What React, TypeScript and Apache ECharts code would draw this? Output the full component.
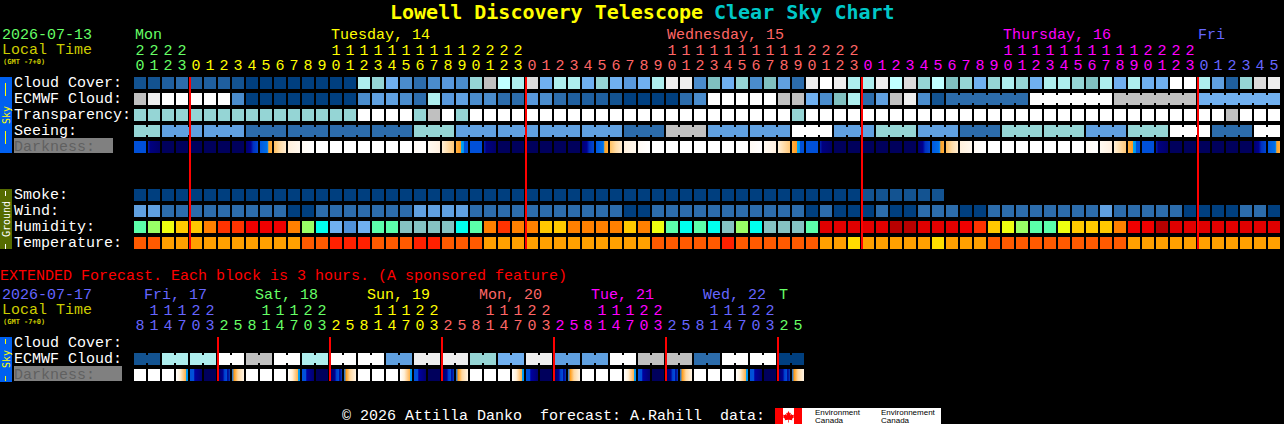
import React, { useEffect, useRef } from "react";
import * as echarts from "echarts";

const FONT = "'Liberation Mono', monospace";
const TITLE_FONT = "'DejaVu Sans Mono', monospace";

// ---- hour header data ----
const mainHours = "0123012345678901234567890123012345678901234567890123012345678901234567890123012345";
const mainTens = "2222          11111111112222          11111111112222          11111111112222      ";
const mainDayOfCol = "GGGGYYYYYYYYYYYYYYYYYYYYYYYYSSSSSSSSSSSSSSSSSSSSSSSSMMMMMMMMMMMMMMMMMMMMMMMMBBBBBB";
const extHours = "814703258147032581470325814703258147032581470325";
const extTens = " 11122   11122   11122   11122   11122   11122  ";
const extDayOfCol = "BBBBBBGGGGGGGGYYYYYYYYSSSSSSSSMMMMMMMMBBBBBBBBGG";

const dayColors: Record<string, string> = { G: "#66ff66", Y: "#ffff00", S: "#ff6666", M: "#ff00ff", B: "#6666ff" };

// ---- row names ----
const mainRows = ["Cloud Cover:", "ECMWF Cloud:", "Transparency:", "Seeing:", "Darkness:", "", "", "Smoke:", "Wind:", "Humidity:", "Temperature:"];
const extRows = ["Cloud Cover:", "ECMWF Cloud:", "Darkness:"];

// ---- forecast rows, one letter per block ----
const cloudCover = "bbcdcccb" + "aaaaaaaa" + "jiged" + "eFeilkjmgj" + "jgigFgjnne" + "hgiehfdnwn" + "j" + "jnkmikhigi" + "jigjjihjgj" + "ggwwjfcimn";
const ecmwfCloud = "ln" + "wwwww" + "e" + "aaaaaaaa" + "effed" + "jFfeeddFed" + "cccbaaaade" + "wwwwwllgeh" + "j" + "dflneb" + "dddddd" + "wwwwww" + "llllll" + "gggggg";
const transparency = "iiiiiiiiiiiiiiii" + "wwww" + "ilwi" + "wwwwwwwwwwwwwwwwwwwwwww" + "i" + "wwwwwwwwwwwwwwwwwwwwwwwwwwwwww" + "l" + "www";
const seeing = "ii" + "ffffff" + "dddddddddddd" + "iii" + "ffffffffffff" + "ddd" + "lll" + "ffffff" + "www" + "fff" + "iii" + "fff" + "ddd" + "iiiiii" + "fff" + "iii" + "www" + "ddd" + "ww";
const darkness = "BENNNNNNROPCLWWWWWWWLSTU" + "BENNNNNNROPCLWWWWWWWLSTU" + "BENNNNNNROPCLWWWWWWWLSTU" + "BENNNNNNRO";
const smoke = "aaaaaaaaaaaaaaaaaaaaaaaaaaaaaaaaaaaaaaaaaaaaaaaaaaaabbbbbb";
const wind = "ff" + "ddddddddd" + "aa" + "ddddddd" + "ffff" + "ddddddddddd" + "aa" + "ddddddddddd" + "ad" + "aaa" + "d" + "aa" + "ddd" + "aa" + "dddddddd" + "f" + "ddddd" + "aaaa" + "dd" + "a";
const humidity = "qrsttuvv555uryz8zqq77" + "77yquvuuttuuuutusqyqy7ry777qxxx" + "xx66xxx5vtsrqqstttu556xxxxxxxx";
const temperature = "11" + "2222222222" + "11" + "333" + "111" + "33" + "111" + "222222222222" + "11111" + "3" + "111111" + "22" + "4" + "22222" + "4" + "222" + "1111111111" + "22222222222";
const extEcmwfPairs = ["b", "j", "j", "w", "l", "w", "j", "w", "w", "f", "n", "n", "i", "g", "n", "f", "f", "w", "l", "l", "d", "w", "w", "a"];
const extDarkness = "WWWDKNGV" + "WWWDKNGV" + "WWWDKNGV" + "WWWDKNGV" + "WWWDKNGV" + "WWWDKNGV";

// ---- block groups: lengths of the runs that are joined together ----
const seeingRuns = [2, 3, 3, 3, 3, 3, 3, 3, 3, 3, 3, 3, 3, 3, 3, 3, 3, 3, 3, 3, 3, 3, 3, 3, 3, 3, 3, 2];
const ecmwfRuns = [...new Array(58).fill(1), 6, 6, 6, 6];
const extEcmwfRuns = new Array(24).fill(2);

const midnightColsMain = [4, 28, 52, 76];
const midnightColsExt = [6, 14, 22, 30, 38, 46];

// ---- colour keys ----
const solid: Record<string, string> = {
  a: "#003f7f", b: "#135391", c: "#1f5f9f", d: "#2c6cab", e: "#4a8ccc", F: "#5898dc", f: "#60a0e0", g: "#70b0f0",
  h: "#80c0c0", i: "#95d5d5", j: "#aeeeee", k: "#c0ffff", l: "#c0c0c0", m: "#dcdcdc", n: "#eeeeee", w: "#ffffff",
  q: "#5bffaa", r: "#99ff66", s: "#eeff10", t: "#ffc800", u: "#ff8000", v: "#ff3300", x: "#e00000", y: "#00ffee", z: "#70b0f0",
  "5": "#f00000", "6": "#b80000", "7": "#85c2c2", "8": "#4f90d8",
  "1": "#ff5a00", "2": "#ffa000", "3": "#ff2000", "4": "#ffdd00",
};
const gradients: Record<string, [number, string][]> = {
  B: [[0, "#0050d8"], [1, "#0050d8"]],
  E: [[0, "#0020b0"], [0.2, "#000080"], [1, "#000068"]],
  N: [[0, "#00005c"], [1, "#00005c"]],
  R: [[0, "#000070"], [0.4, "#000090"], [0.6, "#0030c0"], [1, "#0048d0"]],
  O: [[0, "#0058e0"], [0.6, "#0070e8"], [0.68, "#20a0f0"], [0.72, "#ffa020"], [1, "#ffb040"]],
  P: [[0, "#ffc060"], [0.5, "#ffdca8"], [1, "#ffecd0"]],
  C: [[0, "#fff0dc"], [1, "#fff8ee"]],
  L: [[0, "#fffaf4"], [1, "#ffffff"]],
  W: [[0, "#ffffff"], [1, "#ffffff"]],
  S: [[0, "#fffaf2"], [1, "#fff0e0"]],
  T: [[0, "#fff0d8"], [1, "#ffc878"]],
  U: [[0, "#ffb040"], [0.4, "#ff9a20"], [0.45, "#00a8f0"], [0.65, "#0090f0"], [0.7, "#0050d8"], [1, "#0050d8"]],
  D: [[0, "#ffffff"], [0.35, "#fff0d8"], [0.7, "#ffc070"], [0.85, "#ffb040"], [0.86, "#00a0f0"], [1, "#0090f0"]],
  K: [[0, "#0050d8"], [0.3, "#0050d8"], [0.4, "#0000a0"], [1, "#000070"]],
  G: [[0, "#000060"], [0.4, "#000090"], [0.55, "#0040d0"], [0.75, "#0050d8"], [0.8, "#000090"], [1, "#0040c0"]],
  V: [[0, "#0070e8"], [0.2, "#ffa020"], [0.5, "#ffd8a0"], [1, "#fff4e4"]],
};

type Cell = { col: number; row: number; key: string; join: number };

function fillFor(key: string) {
  const g = gradients[key];
  if (g) return new echarts.graphic.LinearGradient(0, 0, 1, 0, g.map(([offset, color]) => ({ offset, color })));
  return solid[key] || "#000";
}

function joinFlags(runs: number[]) {
  const out: number[] = [];
  runs.forEach((len) => {
    for (let i = 0; i < len; i++) out.push(i < len - 1 ? 1 : 0);
  });
  return out;
}

function rowCells(row: number, text: string, joins?: number[]): Cell[] {
  return text.split("").map((key, col) => ({ col, row, key, join: joins ? joins[col] || 0 : 0 }));
}

function cellRenderer(cells: Cell[]) {
  return (params: any, api: any) => {
    const cell = cells[params.dataIndex];
    const c = api.coord([api.value(0), api.value(1)]);
    const size = api.size([1, 1]);
    const w = size[0] - 2;
    const h = size[1] - 4;
    const x = c[0] - w / 2;
    const y = c[1] - h / 2;
    const fill = fillFor(cell.key);
    const children: any[] = [{ type: "rect", shape: { x, y, width: w, height: h }, style: { fill } }];
    if (cell.join) {
      children.push({ type: "rect", shape: { x: x + w, y: y + 2, width: 2, height: h - 4 }, style: { fill } });
    }
    return { type: "group", children };
  };
}

function redLineRenderer(firstRow: number, lastRow: number) {
  return (_p: any, api: any) => {
    const col = api.value(0);
    const size = api.size([1, 1]);
    const top = api.coord([col, firstRow]);
    const bottom = api.coord([col, lastRow]);
    return {
      type: "rect",
      shape: { x: top[0] - size[0] / 2, y: top[1] - size[1] / 2 + 2, width: 2, height: bottom[1] - top[1] + size[1] - 4 },
      style: { fill: "#ff0000" },
    };
  };
}

function digitAxis(gridIndex: number, text: string, dayKeys: string, margin: number) {
  return {
    type: "category",
    gridIndex,
    position: "top",
    data: text.split("").map((ch, i) => ({
      value: ch === " " ? "" : ch,
      textStyle: { color: dayColors[dayKeys[i]] },
    })),
    axisLine: { show: false },
    axisTick: { show: false },
    splitLine: { show: false },
    axisLabel: { interval: 0, margin, fontFamily: FONT, fontSize: 15, hideOverlap: false },
  };
}

function rowAxis(gridIndex: number, rows: string[]) {
  return {
    type: "category",
    gridIndex,
    inverse: true,
    data: rows.map((name) => ({
      value: name,
      textStyle: { color: name === "Darkness:" ? "#606060" : "#ffffff", align: "left", padding: [0, 0, 3, 0] },
    })),
    axisLine: { show: false },
    axisTick: { show: false },
    splitLine: { show: false },
    axisLabel: { interval: 0, align: "left", margin: 119, fontFamily: FONT, fontSize: 15 },
  };
}

function txt(x: number, y: number, text: string, fill: string, fontSize = 15, fontWeight = "normal", family = FONT) {
  return {
    type: "text",
    x,
    y,
    silent: true,
    style: { text, fill, font: `${fontWeight} ${fontSize}px ${family}`, verticalAlign: "middle" },
  };
}

function sideBar(y: number, h: number, fill: string, text: string, textY: number, color: string, dashes: [number, number][]) {
  return [
    { type: "rect", shape: { x: 0, y, width: 12, height: h }, style: { fill } },
    {
      type: "text",
      x: 6,
      y: textY,
      rotation: Math.PI / 2,
      style: { text, fill: color, font: `10px ${TITLE_FONT}`, align: "center", verticalAlign: "middle" },
    },
    ...dashes.map(([a, b]) => ({ type: "rect", shape: { x: 5, y: a, width: 1, height: b - a }, style: { fill: color } })),
  ];
}

const MAPLE =
  "M12 0 L14.5 4.5 L17 3.3 L16 9 L19 6 L20 8 L24 7.3 L22.7 11 L24.3 12 L19.5 16.2 L20.3 18.6 L12.6 17.7 L12.8 23 L11.2 23 L11.4 17.7 L3.7 18.6 L4.5 16.2 L-0.3 12 L1.3 11 L0 7.3 L4 8 L5 6 L8 9 L7 3.3 L9.5 4.5 Z";
echarts.graphic.registerShape("mapleLeaf", (echarts.graphic as any).extendPath(MAPLE, {}));

export default function App() {
  const ref = useRef<HTMLDivElement>(null);
  useEffect(() => {
    document.body.style.margin = "0";
    document.body.style.background = "#000";
    const chart = echarts.init(ref.current!, undefined, { renderer: "svg" });

    const mainCells: Cell[] = [
      ...rowCells(0, cloudCover),
      ...rowCells(1, ecmwfCloud, joinFlags(ecmwfRuns)),
      ...rowCells(2, transparency),
      ...rowCells(3, seeing, joinFlags(seeingRuns)),
      ...rowCells(4, darkness),
      ...rowCells(7, smoke),
      ...rowCells(8, wind),
      ...rowCells(9, humidity),
      ...rowCells(10, temperature),
    ];
    const extCells: Cell[] = [
      ...rowCells(1, extEcmwfPairs.flatMap((k) => [k, k]).join(""), joinFlags(extEcmwfRuns)),
      ...rowCells(2, extDarkness),
    ];

    const option: any = {
      animation: false,
      backgroundColor: "#000000",
      textStyle: { fontFamily: FONT },
      tooltip: { show: false },
      grid: [
        { left: 133, top: 75, width: 14 * 82, height: 16 * 11, outerBoundsMode: "none" },
        { left: 133, top: 335, width: 14 * 48, height: 16 * 3, outerBoundsMode: "none" },
      ],
      xAxis: [
        digitAxis(0, mainHours, mainDayOfCol, 1),
        digitAxis(0, mainTens, mainDayOfCol, 16),
        digitAxis(1, extHours, extDayOfCol, 1),
        digitAxis(1, extTens, extDayOfCol, 16),
      ],
      yAxis: [rowAxis(0, mainRows), rowAxis(1, extRows)],
      series: [
        {
          type: "custom",
          xAxisIndex: 0,
          yAxisIndex: 0,
          renderItem: cellRenderer(mainCells),
          clip: false,
          encode: { x: 0, y: 1 },
          data: mainCells.map((c) => [c.col, c.row]),
        },
        {
          type: "custom",
          xAxisIndex: 0,
          yAxisIndex: 0,
          renderItem: redLineRenderer(0, 10),
          clip: false,
          z: 5,
          encode: { x: 0, y: 1 },
          data: midnightColsMain.map((c) => [c, 0]),
        },
        {
          type: "custom",
          xAxisIndex: 2,
          yAxisIndex: 1,
          renderItem: cellRenderer(extCells),
          clip: false,
          encode: { x: 0, y: 1 },
          data: extCells.map((c) => [c.col, c.row]),
        },
        {
          type: "custom",
          xAxisIndex: 2,
          yAxisIndex: 1,
          renderItem: redLineRenderer(0, 2),
          clip: false,
          z: 5,
          encode: { x: 0, y: 1 },
          data: midnightColsExt.map((c) => [c, 0]),
        },
      ],
      graphic: [
        { type: "rect", z: -1, shape: { x: 14, y: 138, width: 99, height: 15 }, style: { fill: "#808080" } },
        { type: "rect", z: -1, shape: { x: 14, y: 366, width: 108, height: 15 }, style: { fill: "#808080" } },
        txt(390, 12, "Lowell Discovery Telescope", "#ffff00", 20, "bold", TITLE_FONT),
        txt(714, 12, "Clear Sky Chart", "#00c8c8", 20, "bold", TITLE_FONT),
        txt(2, 35, "2026-07-13", "#66ff66"),
        txt(2, 50, "Local Time", "#cccc00"),
        txt(3, 62, "(GMT -7+0)", "#cccc00", 7, "bold", TITLE_FONT),
        txt(135, 35, "Mon", "#66ff66"),
        txt(331, 35, "Tuesday, 14", "#ffff00"),
        txt(667, 35, "Wednesday, 15", "#ff6666"),
        txt(1003, 35, "Thursday, 16", "#ff00ff"),
        txt(1198, 35, "Fri", "#6666ff"),
        txt(0, 276, "EXTENDED Forecast. Each block is 3 hours. (A sponsored feature)", "#ff0000"),
        txt(2, 295, "2026-07-17", "#6666ff"),
        txt(2, 310, "Local Time", "#cccc00"),
        txt(3, 322, "(GMT -7+0)", "#cccc00", 7, "bold", TITLE_FONT),
        txt(144, 295, "Fri, 17", "#6666ff"),
        txt(255, 295, "Sat, 18", "#66ff66"),
        txt(367, 295, "Sun, 19", "#ffff00"),
        txt(479, 295, "Mon, 20", "#ff6666"),
        txt(591, 295, "Tue, 21", "#ff00ff"),
        txt(703, 295, "Wed, 22", "#6666ff"),
        txt(779, 295, "T", "#66ff66"),
        ...sideBar(77, 76, "#0060f0", "Sky", 115, "#ffff00", [[83, 96], [131, 144]]),
        ...sideBar(189, 60, "#556b00", "Ground", 219, "#ffffff", [[191, 196], [244, 249]]),
        ...sideBar(337, 45, "#0060f0", "Sky", 359, "#ffff00", [[339, 344], [376, 381]]),
        txt(342, 416, "\u00a9 2026 Attilla Danko  forecast: A.Rahill  data:", "#ffffff"),
        { type: "rect", shape: { x: 775, y: 408, width: 166, height: 16 }, style: { fill: "#ffffff" } },
        { type: "rect", shape: { x: 775, y: 408, width: 8, height: 16 }, style: { fill: "#ff0000" } },
        { type: "rect", shape: { x: 794, y: 408, width: 8, height: 16 }, style: { fill: "#ff0000" } },
        { type: "mapleLeaf", x: 783, y: 411, scaleX: 0.46, scaleY: 0.5, style: { fill: "#ff0000" } },
        txt(815, 412.5, "Environment", "#000000", 8, "normal", "'Liberation Sans', sans-serif"),
        txt(815, 420, "Canada", "#000000", 8, "normal", "'Liberation Sans', sans-serif"),
        txt(881, 412.5, "Environnement", "#000000", 8, "normal", "'Liberation Sans', sans-serif"),
        txt(881, 420, "Canada", "#000000", 8, "normal", "'Liberation Sans', sans-serif"),
      ],
    };
    chart.setOption(option);
    return () => chart.dispose();
  }, []);
  return <div ref={ref} style={{ position: "absolute", left: 0, top: 0, width: 1284, height: 424 }} />;
}
